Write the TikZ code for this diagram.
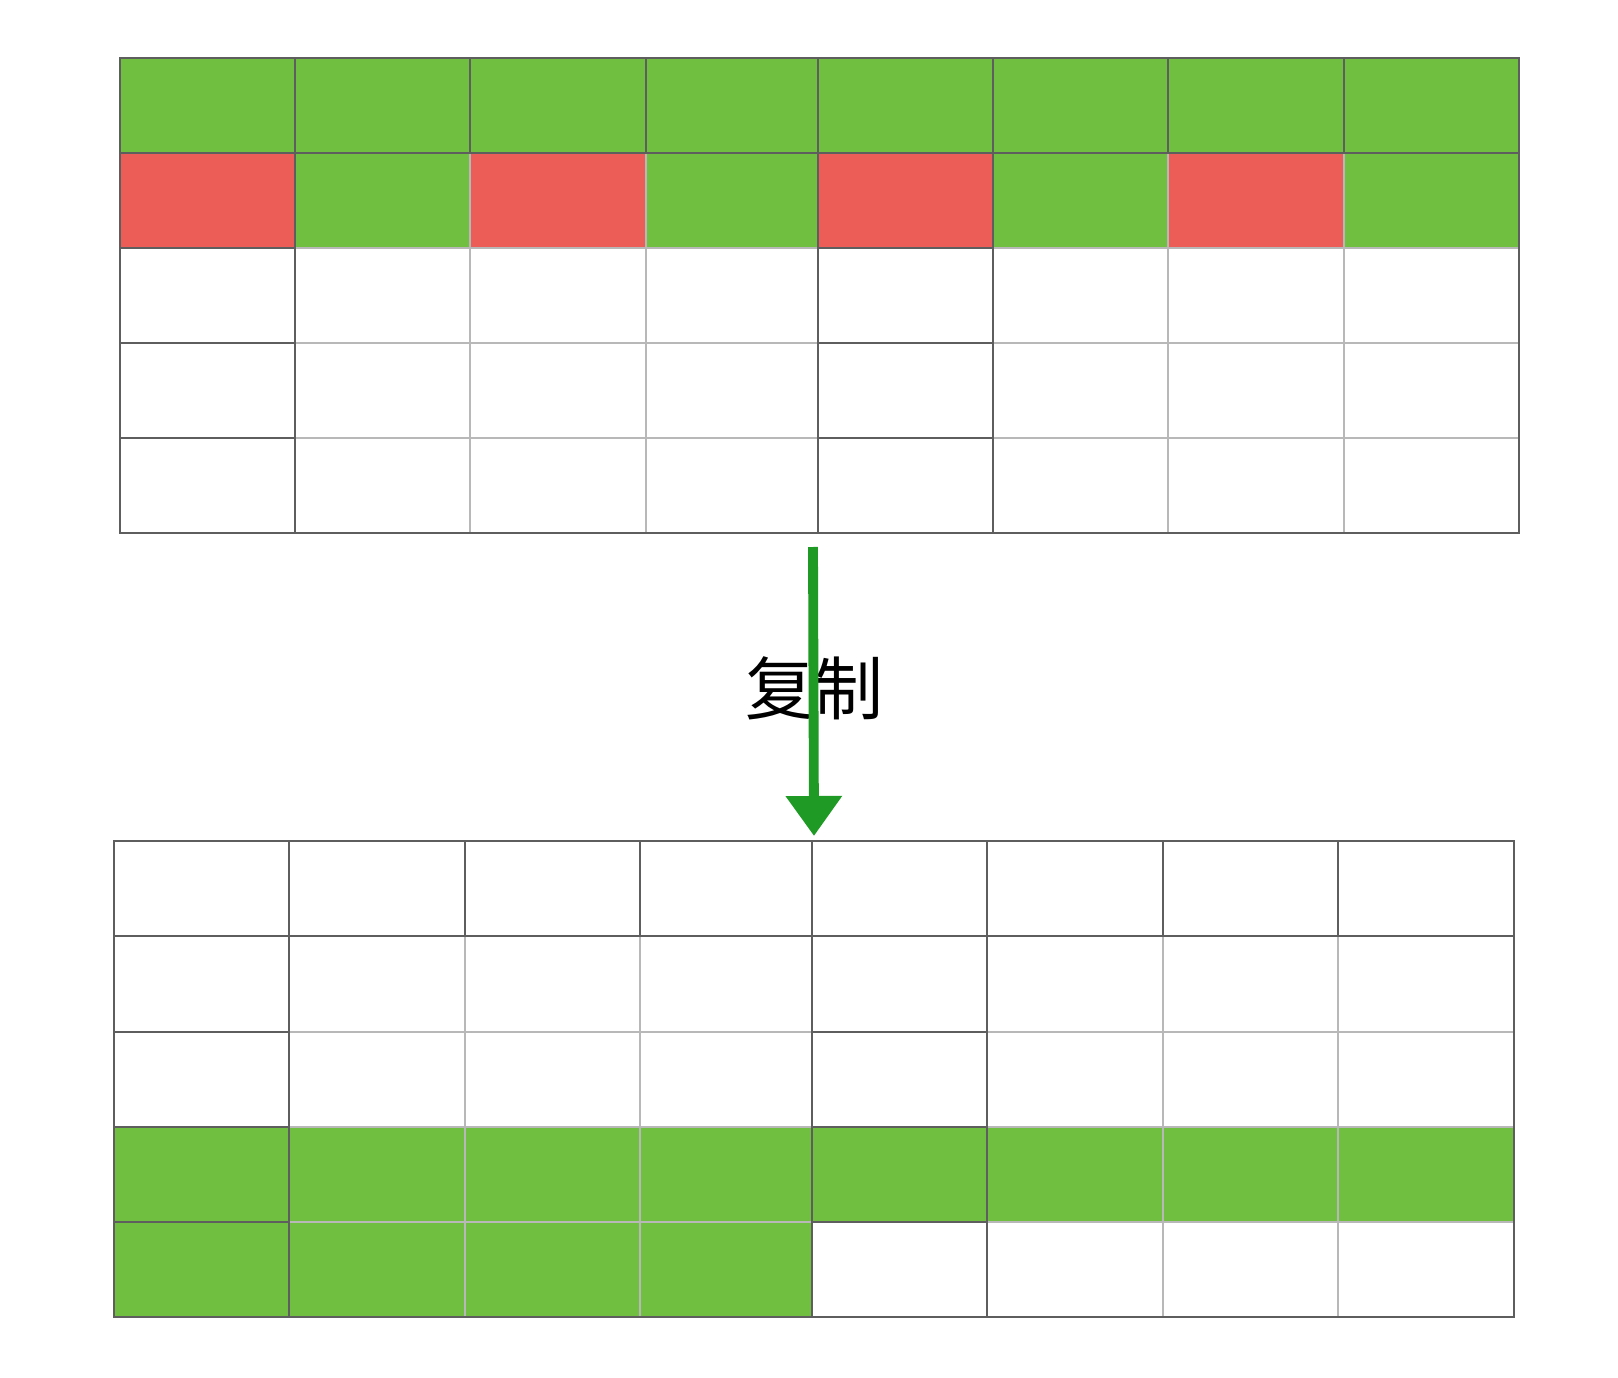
\documentclass[tikz,border=0pt]{standalone}
\usepackage{fontspec}
\newfontfamily\cjkfont{Noto Sans CJK SC}
\usetikzlibrary{arrows.meta}
\definecolor{cellgreen}{HTML}{70BF41}
\definecolor{cellred}{HTML}{EC5D57}
\definecolor{darkline}{HTML}{5E5E5E}
\definecolor{lightline}{HTML}{B8B8B8}
\definecolor{arrowgreen}{HTML}{1F9A25}
\tikzset{
  thinline/.style={draw=lightline, line width=1.9pt},
  boldline/.style={draw=darkline, line width=1.9pt},
  copyarrow/.style={draw=arrowgreen, line width=7pt, -{Triangle[width=1.35cm, length=1.0cm]}},
}
\begin{document}
\begin{tikzpicture}[x=0.025cm, y=-0.025cm]
\useasboundingbox (0,0) rectangle (1618,1378);

% Top grid: colour the first two rows
\fill[cellgreen] (120, 58) rectangle (1519, 153);
\fill[cellred] (120, 153) rectangle (295, 248);
\fill[cellgreen] (295, 153) rectangle (470, 248);
\fill[cellred] (470, 153) rectangle (646, 248);
\fill[cellgreen] (646, 153) rectangle (818, 248);
\fill[cellred] (818, 153) rectangle (993, 248);
\fill[cellgreen] (993, 153) rectangle (1168, 248);
\fill[cellred] (1168, 153) rectangle (1344, 248);
\fill[cellgreen] (1344, 153) rectangle (1519, 248);

% Top grid: light lines
\draw[thinline] (295, 58) -- (295, 533);
\draw[thinline] (470, 58) -- (470, 533);
\draw[thinline] (646, 58) -- (646, 533);
\draw[thinline] (1168, 58) -- (1168, 533);
\draw[thinline] (1344, 58) -- (1344, 533);
\draw[thinline] (120, 248) -- (1519, 248);
\draw[thinline] (120, 343) -- (1519, 343);
\draw[thinline] (120, 438) -- (1519, 438);

% Top grid: dark first row, first column and fifth column
\draw[boldline] (120, 58) rectangle (1519, 153);
\draw[boldline] (295, 58) -- (295, 153);
\draw[boldline] (470, 58) -- (470, 153);
\draw[boldline] (646, 58) -- (646, 153);
\draw[boldline] (1168, 58) -- (1168, 153);
\draw[boldline] (1344, 58) -- (1344, 153);
\draw[boldline] (295, 58) -- (295, 533);
\draw[boldline] (120, 248) -- (295, 248);
\draw[boldline] (120, 343) -- (295, 343);
\draw[boldline] (120, 438) -- (295, 438);
\draw[boldline] (818, 58) -- (818, 533);
\draw[boldline] (993, 58) -- (993, 533);
\draw[boldline] (818, 248) -- (993, 248);
\draw[boldline] (818, 343) -- (993, 343);
\draw[boldline] (818, 438) -- (993, 438);
\draw[boldline] (120, 58) rectangle (1519, 533);

% Label and arrow
\node[font=\cjkfont\fontsize{49}{52}\selectfont, text=black] (copylabel) at (814, 688) {复制};
\coordinate (arrowtop) at (813, 547);
\coordinate (arrowtip) at (814, 836);
\draw[copyarrow] (arrowtop) -- (arrowtip);

% Bottom grid: colour the last two rows
\fill[cellgreen] (114, 1127) rectangle (1514, 1222);
\fill[cellgreen] (114, 1222) rectangle (812, 1317);

% Bottom grid: light lines
\draw[thinline] (289, 841) -- (289, 1317);
\draw[thinline] (465, 841) -- (465, 1317);
\draw[thinline] (640, 841) -- (640, 1317);
\draw[thinline] (1163, 841) -- (1163, 1317);
\draw[thinline] (1338, 841) -- (1338, 1317);
\draw[thinline] (114, 1032) -- (1514, 1032);
\draw[thinline] (114, 1127) -- (1514, 1127);
\draw[thinline] (114, 1222) -- (1514, 1222);

% Bottom grid: dark first row, first column and fifth column
\draw[boldline] (114, 841) rectangle (1514, 936);
\draw[boldline] (289, 841) -- (289, 936);
\draw[boldline] (465, 841) -- (465, 936);
\draw[boldline] (640, 841) -- (640, 936);
\draw[boldline] (1163, 841) -- (1163, 936);
\draw[boldline] (1338, 841) -- (1338, 936);
\draw[boldline] (289, 841) -- (289, 1317);
\draw[boldline] (114, 1032) -- (289, 1032);
\draw[boldline] (114, 1127) -- (289, 1127);
\draw[boldline] (114, 1222) -- (289, 1222);
\draw[boldline] (812, 841) -- (812, 1317);
\draw[boldline] (987, 841) -- (987, 1317);
\draw[boldline] (812, 1032) -- (987, 1032);
\draw[boldline] (812, 1127) -- (987, 1127);
\draw[boldline] (812, 1222) -- (987, 1222);
\draw[boldline] (114, 841) rectangle (1514, 1317);
\end{tikzpicture}
\end{document}
